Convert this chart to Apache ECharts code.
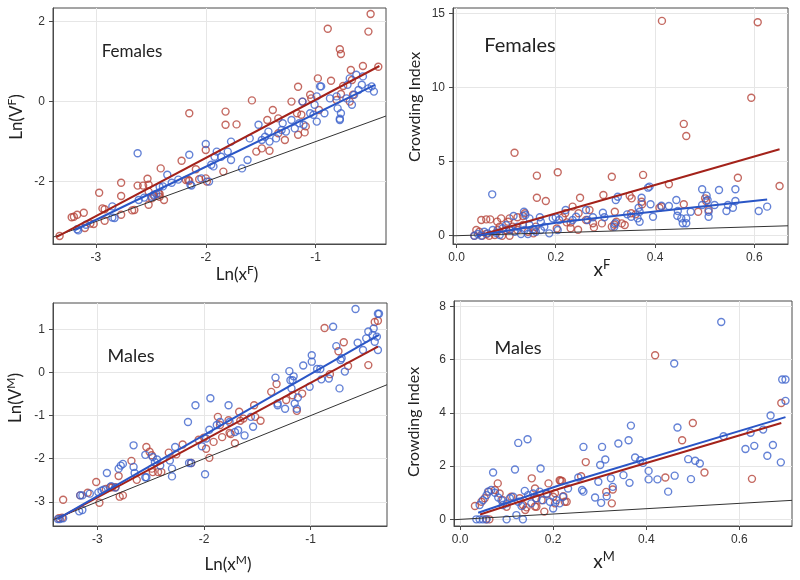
<!DOCTYPE html>
<html><head><meta charset="utf-8">
<script src="https://cdn.jsdelivr.net/npm/echarts@6/dist/echarts.min.js"></script>
<style>html,body{margin:0;padding:0;background:#fff}#c{width:800px;height:580px}</style>
</head><body><div id="c"></div>
<script>
// ---- Panel A: Females, Ln(V) vs Ln(x)
const femLnRed = [[-3.33,-3.36],[-3.22,-2.89],[-3.20,-2.88],[-3.17,-2.83],[-3.11,-2.78],[-3.10,-3.16],[-3.05,-3.05],[-3.02,-3.06],[-2.97,-2.28],[-2.94,-2.67],[-2.92,-2.69],[-2.92,-2.98],[-2.77,-2.03],[-2.77,-2.36],[-2.77,-2.83],[-2.67,-2.72],[-2.65,-2.71],[-2.62,-2.10],[-2.57,-2.10],[-2.53,-1.93],[-2.52,-2.08],[-2.52,-2.25],[-2.52,-2.58],[-2.49,-2.42],[-2.47,-2.36],[-2.43,-2.29],[-2.42,-2.38],[-2.42,-2.31],[-2.41,-1.67],[-2.38,-2.46],[-2.22,-1.48],[-2.18,-1.96],[-2.16,-1.96],[-2.15,-1.98],[-2.15,-0.29],[-2.09,-1.69],[-2.06,-1.94],[-2.00,-1.92],[-2.00,-1.21],[-1.99,-2.00],[-1.84,-1.75],[-1.82,-0.25],[-1.82,-0.58],[-1.72,-0.57],[-1.58,0.03],[-1.54,-1.25],[-1.49,-1.17],[-1.44,-0.46],[-1.42,-1.23],[-1.39,-0.21],[-1.34,-0.42],[-1.34,-0.79],[-1.28,-0.96],[-1.22,0.00],[-1.17,-0.29],[-1.16,0.37],[-1.16,-0.83],[-1.13,-0.33],[-1.12,0.00],[-1.10,-0.77],[-1.09,-0.62],[-1.05,0.17],[-1.04,0.08],[-0.98,0.58],[-0.97,-0.21],[-0.89,1.82],[-0.86,0.52],[-0.81,0.04],[-0.78,1.31],[-0.77,1.19],[-0.77,0.19],[-0.75,0.39],[-0.69,0.00],[-0.68,0.79],[-0.67,0.54],[-0.66,0.17],[-0.57,0.89],[-0.52,1.75],[-0.50,2.19],[-0.43,0.87]];
const femLnBlue = [[-3.17,-3.19],[-3.16,-3.22],[-3.09,-3.08],[-2.85,-2.62],[-2.85,-2.90],[-2.83,-2.91],[-2.62,-1.29],[-2.61,-2.46],[-2.56,-2.40],[-2.49,-2.38],[-2.47,-2.33],[-2.45,-2.31],[-2.42,-2.13],[-2.39,-2.12],[-2.35,-1.83],[-2.31,-2.03],[-2.25,-1.95],[-2.15,-1.33],[-2.14,-2.08],[-2.13,-2.10],[-2.04,-1.92],[-2.00,-1.06],[-1.97,-2.00],[-1.95,-1.58],[-1.93,-1.62],[-1.92,-1.38],[-1.90,-1.25],[-1.86,-1.38],[-1.80,-1.25],[-1.77,-1.00],[-1.77,-1.46],[-1.67,-1.67],[-1.62,-1.46],[-1.60,-0.92],[-1.52,-0.58],[-1.49,-0.96],[-1.46,-0.88],[-1.43,-0.75],[-1.42,-1.00],[-1.36,-0.92],[-1.31,-0.71],[-1.30,-0.54],[-1.27,-0.75],[-1.22,-0.46],[-1.19,-0.67],[-1.15,-0.54],[-1.12,0.00],[-1.11,-0.58],[-1.05,-0.29],[-1.02,-0.33],[-1.01,-0.08],[-0.99,0.13],[-0.99,-0.50],[-0.96,0.38],[-0.95,0.38],[-0.92,-0.29],[-0.87,0.08],[-0.81,0.13],[-0.80,-0.17],[-0.78,-0.46],[-0.78,-0.43],[-0.77,-0.29],[-0.72,0.08],[-0.71,0.42],[-0.69,0.58],[-0.67,-0.08],[-0.65,0.17],[-0.63,0.67],[-0.61,0.29],[-0.58,0.42],[-0.57,0.63],[-0.52,0.33],[-0.49,0.38],[-0.47,0.25]];
const femLnRedFit = [[-3.36,-3.39],[-0.42,0.89]];
const femLnBlueFit = [[-3.19,-3.21],[-0.46,0.42]];
const femLnRef = [[-3.39,-3.39],[-0.36,-0.36]];

// ---- Panel B: Females, Crowding Index vs x
const femCiRed = [[0.414,14.49],[0.607,14.40],[0.594,9.31],[0.458,7.54],[0.463,6.73],[0.117,5.60],[0.162,4.05],[0.204,4.28],[0.313,3.98],[0.376,4.10],[0.567,3.91],[0.651,3.35],[0.428,3.47],[0.162,2.56],[0.180,2.34],[0.249,2.56],[0.296,2.75],[0.349,2.70],[0.353,2.52],[0.373,2.29],[0.374,2.12],[0.413,1.96],[0.409,1.89],[0.458,2.12],[0.501,2.52],[0.503,2.34],[0.487,1.62],[0.508,1.73],[0.339,0.72],[0.352,1.51],[0.361,1.44],[0.319,1.62],[0.322,0.94],[0.293,0.83],[0.277,0.56],[0.313,0.61],[0.318,0.76],[0.333,0.83],[0.234,1.96],[0.246,1.51],[0.219,1.51],[0.261,1.06],[0.268,1.73],[0.275,0.84],[0.214,1.24],[0.222,0.90],[0.230,0.88],[0.202,0.49],[0.230,0.50],[0.245,0.40],[0.050,1.06],[0.060,1.10],[0.068,1.10],[0.082,0.95],[0.090,1.17],[0.107,1.17],[0.123,1.24],[0.134,1.33],[0.138,1.51],[0.104,0.94],[0.108,0.38],[0.087,0.61],[0.155,0.16],[0.036,0.00],[0.040,0.38],[0.046,0.27],[0.052,0.00],[0.060,0.11],[0.066,0.00],[0.077,0.05],[0.083,0.38],[0.092,0.00],[0.100,0.38],[0.107,0.00],[0.113,0.61],[0.123,0.38],[0.134,0.72],[0.144,0.27],[0.157,0.38],[0.160,0.61]];
const femCiBlue = [[0.072,2.79],[0.115,1.33],[0.136,1.62],[0.139,1.40],[0.147,1.17],[0.168,1.24],[0.170,0.94],[0.194,1.17],[0.200,1.24],[0.220,1.73],[0.187,0.16],[0.204,0.38],[0.207,1.06],[0.234,1.06],[0.241,1.28],[0.261,1.73],[0.264,1.06],[0.275,1.24],[0.295,1.55],[0.298,1.24],[0.321,2.41],[0.325,2.63],[0.320,0.84],[0.318,0.61],[0.386,3.24],[0.389,3.31],[0.373,2.56],[0.391,2.12],[0.367,1.89],[0.369,1.62],[0.365,1.17],[0.369,0.94],[0.352,1.28],[0.344,1.44],[0.396,1.28],[0.413,2.02],[0.428,2.00],[0.443,2.41],[0.446,1.67],[0.445,1.35],[0.453,1.17],[0.456,0.84],[0.463,0.84],[0.463,1.17],[0.472,1.62],[0.495,3.13],[0.504,2.70],[0.506,2.41],[0.495,2.07],[0.508,1.62],[0.508,1.28],[0.520,2.07],[0.529,3.08],[0.544,1.67],[0.547,2.07],[0.557,1.89],[0.562,3.13],[0.562,2.34],[0.609,1.67],[0.626,1.96],[0.036,0.00],[0.043,0.11],[0.050,0.00],[0.056,0.27],[0.063,0.16],[0.073,0.38],[0.080,0.20],[0.087,0.05],[0.093,0.50],[0.100,0.72],[0.107,0.38],[0.117,0.27],[0.123,0.61],[0.130,0.11],[0.137,0.38],[0.144,0.11],[0.147,0.72],[0.154,0.43],[0.160,0.27],[0.170,0.38],[0.177,0.61]];
const femCiRedFit = [[0.043,0.00],[0.335,2.80],[0.651,5.83]];
const femCiBlueFit = [[0.040,0.00],[0.200,0.88],[0.335,1.40],[0.626,2.44]];
const femCiRef = [[-0.007,-0.007],[0.668,0.668]];

// ---- Panel C: Males, Ln(V) vs Ln(x)
const maleLnRed = [[-3.36,-3.38],[-3.33,-3.37],[-3.32,-2.95],[-3.16,-2.85],[-3.09,-2.79],[-3.01,-2.54],[-2.98,-3.02],[-2.92,-2.70],[-2.88,-2.66],[-2.86,-2.66],[-2.83,-2.66],[-2.80,-2.40],[-2.79,-2.88],[-2.76,-2.85],[-2.68,-2.05],[-2.63,-2.49],[-2.54,-1.73],[-2.51,-1.84],[-2.49,-1.92],[-2.49,-2.23],[-2.48,-2.31],[-2.43,-2.31],[-2.40,-2.31],[-2.33,-1.86],[-2.26,-1.90],[-2.20,-1.67],[-2.12,-2.10],[-2.05,-1.56],[-2.00,-1.51],[-1.98,-1.77],[-1.95,-1.98],[-1.91,-1.61],[-1.87,-1.03],[-1.85,-1.22],[-1.83,-1.50],[-1.77,-1.11],[-1.76,-1.40],[-1.75,-1.43],[-1.71,-1.64],[-1.67,-0.91],[-1.66,-1.12],[-1.63,-1.07],[-1.53,-0.76],[-1.52,-1.03],[-1.47,-1.12],[-1.37,-0.45],[-1.32,-0.27],[-1.23,-0.64],[-1.17,-0.53],[-1.13,-0.89],[-1.08,-0.49],[-0.87,1.03],[-0.82,-0.04],[-0.74,0.49],[-0.69,0.70],[-0.65,0.15],[-0.46,0.17],[-0.40,1.17],[-0.37,1.20]];
const maleLnBlue = [[-3.37,-3.40],[-3.35,-3.40],[-3.32,-3.38],[-3.17,-3.22],[-3.14,-3.19],[-3.16,-2.85],[-3.14,-2.85],[-3.07,-2.81],[-2.99,-2.78],[-2.96,-2.74],[-2.94,-2.72],[-2.91,-2.33],[-2.87,-2.64],[-2.83,-2.67],[-2.80,-2.23],[-2.78,-2.16],[-2.76,-2.12],[-2.66,-2.19],[-2.65,-2.33],[-2.66,-1.69],[-2.55,-1.91],[-2.55,-2.43],[-2.54,-2.43],[-2.48,-1.96],[-2.46,-2.08],[-2.44,-2.02],[-2.41,-2.16],[-2.32,-2.04],[-2.30,-2.23],[-2.30,-2.41],[-2.27,-1.73],[-2.15,-1.15],[-2.14,-2.10],[-2.12,-2.10],[-2.08,-0.76],[-2.02,-1.71],[-1.99,-2.36],[-1.98,-1.53],[-1.95,-1.33],[-1.94,-0.60],[-1.88,-1.22],[-1.85,-1.15],[-1.77,-0.76],[-1.76,-1.15],[-1.71,-1.38],[-1.68,-1.34],[-1.62,-1.46],[-1.56,-1.03],[-1.54,-1.26],[-1.33,-0.12],[-1.31,-0.72],[-1.31,-0.76],[-1.24,-0.84],[-1.20,0.03],[-1.19,-0.18],[-1.17,-0.18],[-1.18,-0.37],[-1.16,-0.09],[-1.15,-0.72],[-1.13,-0.84],[-1.12,-0.58],[-1.07,0.16],[-1.01,-0.33],[-0.99,0.40],[-0.99,0.25],[-0.94,0.08],[-0.91,0.08],[-0.90,-0.16],[-0.83,-0.14],[-0.79,1.06],[-0.76,0.61],[-0.73,-0.37],[-0.72,0.29],[-0.71,0.33],[-0.68,0.02],[-0.58,1.47],[-0.56,0.69],[-0.51,0.52],[-0.48,0.79],[-0.46,0.95],[-0.42,0.87],[-0.41,1.02],[-0.40,0.71],[-0.38,0.83],[-0.37,1.36],[-0.36,1.36],[-0.37,0.52]];
const maleLnRedFit = [[-3.36,-3.38],[-0.37,0.60]];
const maleLnBlueFit = [[-3.375,-3.40],[-0.36,0.87]];
const maleLnRef = [[-3.415,-3.415],[-0.285,-0.285]];

// ---- Panel D: Males, Crowding Index vs x
const maleCiRed = [[0.419,6.16],[0.690,4.37],[0.500,3.62],[0.477,2.97],[0.270,2.15],[0.260,1.62],[0.525,1.76],[0.441,1.57],[0.627,1.52],[0.314,1.03],[0.328,1.12],[0.326,0.60],[0.219,1.44],[0.222,0.87],[0.229,0.66],[0.154,1.54],[0.081,1.35],[0.190,1.35],[0.216,1.45],[0.204,0.98],[0.186,0.95],[0.161,0.48],[0.140,0.35],[0.163,0.79],[0.181,0.29],[0.032,0.50],[0.046,0.66],[0.053,0.79],[0.062,1.04],[0.075,1.10],[0.085,0.97],[0.092,0.72],[0.100,0.47],[0.110,0.85],[0.128,0.79],[0.135,0.54],[0.143,0.45],[0.161,1.16],[0.164,0.47],[0.175,0.72],[0.200,0.85],[0.204,0.60],[0.214,1.47],[0.225,0.66],[0.056,0.00],[0.063,0.00]];
const maleCiBlue = [[0.561,7.41],[0.460,5.85],[0.692,5.25],[0.699,5.25],[0.699,4.45],[0.667,3.90],[0.467,3.45],[0.367,3.52],[0.566,3.12],[0.624,3.25],[0.651,3.37],[0.340,2.85],[0.362,2.97],[0.632,2.76],[0.672,2.79],[0.660,2.39],[0.613,2.64],[0.689,2.14],[0.125,2.87],[0.145,3.01],[0.071,1.76],[0.118,1.87],[0.173,1.91],[0.265,2.72],[0.305,2.72],[0.312,2.25],[0.301,2.04],[0.297,1.41],[0.254,1.57],[0.262,1.10],[0.265,1.04],[0.290,0.82],[0.303,0.62],[0.315,0.87],[0.324,1.54],[0.328,1.22],[0.351,1.66],[0.364,1.37],[0.376,2.32],[0.387,2.22],[0.393,2.12],[0.405,1.82],[0.405,1.50],[0.424,1.50],[0.447,1.04],[0.461,1.64],[0.490,2.26],[0.496,1.51],[0.505,2.20],[0.515,2.10],[0.035,0.00],[0.042,0.00],[0.049,0.00],[0.057,0.00],[0.100,0.00],[0.121,0.16],[0.135,0.00],[0.042,0.54],[0.049,0.72],[0.057,0.91],[0.060,1.04],[0.067,1.10],[0.075,1.00],[0.082,0.82],[0.089,0.72],[0.092,0.54],[0.100,0.60],[0.107,0.79],[0.114,0.85],[0.125,0.66],[0.132,0.50],[0.139,1.07],[0.146,0.91],[0.153,0.60],[0.157,0.97],[0.164,0.79],[0.171,1.04],[0.178,0.72],[0.186,0.97],[0.193,0.66],[0.200,0.41],[0.207,0.72],[0.214,0.60],[0.221,0.85],[0.232,1.16]];
const maleCiRedFit = [[0.043,0.18],[0.215,1.16],[0.690,3.62]];
const maleCiBlueFit = [[0.039,0.25],[0.215,1.29],[0.699,3.84]];
const maleCiRef = [[-0.013,-0.013],[0.713,0.713]];

// ---- tick values
const lnXTicks = [-3, -2, -1];
const femLnYTicks = [-2, 0, 2];
const maleLnYTicks = [-3, -2, -1, 0, 1];
const propXTicks = [0, 0.2, 0.4, 0.6];
const femCiYTicks = [0, 5, 10, 15];
const maleCiYTicks = [0, 2, 4, 6, 8];

const RED = '#b5443a', BLUE = '#3d63cc', RED_LINE = '#a3221a', BLUE_LINE = '#2a56c6';
const TICK_FONT = 'Liberation Sans';
const NAME_FONT = 'Lato';

function axis(gi, min, max, ticks, fmt) {
  return {
    gridIndex: gi, type: 'value', min: min, max: max,
    axisLine: {show: true, onZero: false, lineStyle: {color: '#4a4a4a', width: 1}},
    axisTick: {show: true, customValues: ticks, length: 4, lineStyle: {color: '#4a4a4a'}},
    axisLabel: {customValues: ticks, formatter: fmt, color: '#333', fontSize: 12, fontFamily: TICK_FONT, margin: 8},
    splitLine: {show: true, lineStyle: {color: '#e6e6e6', width: 1}}
  };
}
const intFmt = v => String(Math.round(v));
const decFmt = v => v.toFixed(1);

function pts(gi, data, color) {
  return {type: 'scatter', xAxisIndex: gi, yAxisIndex: gi, data: data, symbol: 'circle', symbolSize: 7,
    itemStyle: {color: 'rgba(0,0,0,0)', borderColor: color, borderWidth: 1.4}, silent: true};
}
function fit(gi, data, color, w) {
  return {type: 'line', xAxisIndex: gi, yAxisIndex: gi, data: data, showSymbol: false, smooth: false,
    lineStyle: {color: color, width: w}, silent: true, z: 5};
}

const series = [];
const panels = [
  [femLnRed, femLnBlue, femLnRedFit, femLnBlueFit, femLnRef],
  [femCiRed, femCiBlue, femCiRedFit, femCiBlueFit, femCiRef],
  [maleLnRed, maleLnBlue, maleLnRedFit, maleLnBlueFit, maleLnRef],
  [maleCiRed, maleCiBlue, maleCiRedFit, maleCiBlueFit, maleCiRef]
];
panels.forEach((p, i) => {
  series.push(pts(i, p[0], RED));
  series.push(pts(i, p[1], BLUE));
  series.push(fit(i, p[4], '#333', 1));
  series.push(fit(i, p[2], RED_LINE, 2));
  series.push(fit(i, p[3], BLUE_LINE, 2));
});

function nm(parts, x, y, rot, size) {
  const ss = Math.round(size * 0.68);
  return {
    type: 'text', x: x, y: y, rotation: rot || 0, z: 10,
    style: {
      text: '{n|' + parts[0] + '}{s|' + parts[1] + '}{n|' + (parts[2] || '') + '}',
      align: 'center', verticalAlign: 'middle',
      rich: {
        n: {fontSize: size, fontFamily: NAME_FONT, fill: '#222', verticalAlign: 'bottom', lineHeight: size + 4},
        s: {fontSize: ss, fontFamily: NAME_FONT, fill: '#222', verticalAlign: 'bottom', lineHeight: ss, padding: [0, 0, Math.round(size * 0.42), 0]}
      }
    }
  };
}
function lbl(text, x, y, rot, size) {
  return {type: 'text', x: x, y: y, rotation: rot || 0, z: 10,
    style: {text: text, align: 'center', verticalAlign: 'middle', fill: '#222',
      font: size + 'px ' + NAME_FONT}};
}

const gridBase = {show: true, borderColor: '#4a4a4a', borderWidth: 1, backgroundColor: '#fff'};
const option = {
  animation: false,
  backgroundColor: '#fff',
  grid: [
    Object.assign({left: 53, top: 8, width: 333, height: 236}, gridBase),
    Object.assign({left: 453, top: 8, width: 335, height: 236}, gridBase),
    Object.assign({left: 53, top: 303, width: 334, height: 223}, gridBase),
    Object.assign({left: 454, top: 301, width: 338, height: 225}, gridBase)
  ],
  xAxis: [
    axis(0, -3.39, -0.36, lnXTicks, intFmt),
    axis(1, -0.007, 0.668, propXTicks, decFmt),
    axis(2, -3.415, -0.285, lnXTicks, intFmt),
    axis(3, -0.013, 0.713, propXTicks, decFmt)
  ],
  yAxis: [
    axis(0, -3.56, 2.34, femLnYTicks, intFmt),
    axis(1, -0.56, 15.36, femCiYTicks, intFmt),
    axis(2, -3.56, 1.61, maleLnYTicks, intFmt),
    axis(3, -0.25, 8.2, maleCiYTicks, intFmt)
  ],
  series: series,
  graphic: [
    nm(['Ln(x', 'F', ')'], 237, 273, 0, 17),
    nm(['Ln(V', 'F', ')'], 15, 117, Math.PI / 2, 17),
    nm(['x', 'F', ''], 602, 268, 0, 19),
    lbl('Crowding Index', 415, 107, Math.PI / 2, 16),
    nm(['Ln(x', 'M', ')'], 228, 563, 0, 17),
    nm(['Ln(V', 'M', ')'], 14, 398, Math.PI / 2, 17),
    nm(['x', 'M', ''], 604, 560, 0, 19),
    lbl('Crowding Index', 414, 422, Math.PI / 2, 16),
    lbl('Females', 132, 52, 0, 17),
    lbl('Females', 520, 46, 0, 20),
    lbl('Males', 131, 356, 0, 18),
    lbl('Males', 518, 348, 0, 18)
  ]
};
const chart = echarts.init(document.getElementById('c'), null, {renderer: 'canvas'});
chart.setOption(option);
</script></body></html>
